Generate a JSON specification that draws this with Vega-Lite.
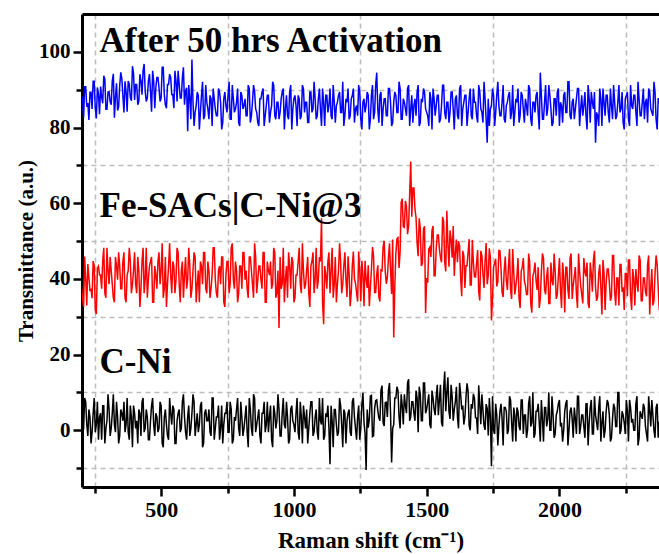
{
"$schema": "https://vega.github.io/schema/vega-lite/v6.json",
"autosize": "none",
"width": 577,
"height": 473,
"padding": {"left": 82, "top": 14, "right": 0, "bottom": 67},
"background": "white",
"config": {
  "view": {"stroke": null},
  "axis": {"labelFont": "Liberation Serif", "titleFont": "Liberation Serif", "labelFontWeight": "bold", "titleFontWeight": "bold", "labelColor": "black", "titleColor": "black", "domainColor": "black", "tickColor": "black"}
},
"datasets": {
"spec": [
{"x":200,"k":5.5,"f":38.2,"a":87.9},{"x":208,"k":0.5,"f":32.5,"a":82.6},{"x":216,"k":7.5,"f":40,"a":90.8},{"x":224,"k":-1.5,"f":43.9,"a":86.5},{"x":232,"k":3.5,"f":37,"a":89.3},{"x":240,"k":-0.5,"f":34.9,"a":84.9},{"x":248,"k":8.5,"f":43.6,"a":92.2},{"x":256,"k":1.5,"f":30.7,"a":82.4},{"x":264,"k":-2.5,"f":43.4,"a":88.9},{"x":272,"k":4.5,"f":41,"a":90.8},
{"x":280,"k":6.5,"f":44.6,"a":86.4},{"x":288,"k":-3.5,"f":36.2,"a":92.8},{"x":296,"k":2.5,"f":48.2,"a":84.8},{"x":304,"k":5.5,"f":38.6,"a":89.5},{"x":312,"k":0.5,"f":42.2,"a":86},{"x":320,"k":9.5,"f":35,"a":94.2},{"x":328,"k":-0.5,"f":45.8,"a":88},{"x":336,"k":3.5,"f":39.8,"a":84.5},{"x":344,"k":-1.5,"f":43.4,"a":91},{"x":352,"k":4.5,"f":37.4,"a":92.9},
{"x":360,"k":7.5,"f":47,"a":84},{"x":368,"k":1.5,"f":33.8,"a":89.5},{"x":376,"k":-0.5,"f":42.2,"a":92.3},{"x":384,"k":6.5,"f":44.6,"a":88},{"x":392,"k":-4.5,"f":38.6,"a":96.2},{"x":400,"k":4.5,"f":47,"a":87.3},{"x":408,"k":2.5,"f":36.2,"a":91.4},{"x":416,"k":5.5,"f":42.2,"a":86.9},{"x":424,"k":-1.5,"f":37.4,"a":92.3},{"x":432,"k":8.5,"f":48.2,"a":95},
{"x":440,"k":0.5,"f":39.8,"a":89.6},{"x":448,"k":3.5,"f":35,"a":87.8},{"x":456,"k":-2.5,"f":43.4,"a":94.1},{"x":464,"k":6.5,"f":45.8,"a":84.2},{"x":472,"k":1.5,"f":33.8,"a":92.3},{"x":480,"k":4.5,"f":41,"a":90.5},{"x":488,"k":-0.5,"f":44.6,"a":93.2},{"x":496,"k":7.5,"f":38.6,"a":86.9},{"x":504,"k":-3.5,"f":49.4,"a":95.9},{"x":512,"k":3.5,"f":37.4,"a":88.7},
{"x":520,"k":1.5,"f":32.6,"a":85.1},{"x":528,"k":-2.5,"f":43.4,"a":91.4},{"x":536,"k":4.5,"f":41,"a":93.2},{"x":544,"k":6.5,"f":44.6,"a":88.7},{"x":552,"k":-3.5,"f":36.2,"a":95},{"x":560,"k":2.5,"f":48.2,"a":86.9},{"x":568,"k":5.5,"f":38.6,"a":91.4},{"x":576,"k":0.5,"f":42.2,"a":87.8},{"x":584,"k":9.5,"f":35,"a":95.9},{"x":592,"k":-0.5,"f":45.8,"a":89.6},
{"x":600,"k":3.5,"f":39.8,"a":79},{"x":608,"k":-1.5,"f":43.4,"a":87.6},{"x":616,"k":4.5,"f":37.4,"a":98},{"x":624,"k":7.5,"f":47,"a":80.4},{"x":632,"k":1.5,"f":33.8,"a":85.8},{"x":640,"k":-0.5,"f":42.2,"a":88.5},{"x":648,"k":6.5,"f":44.6,"a":84},{"x":656,"k":-4.5,"f":38.6,"a":92.1},{"x":664,"k":4.5,"f":47,"a":83.1},{"x":672,"k":2.5,"f":36.2,"a":86.7},
{"x":680,"k":5.5,"f":42.2,"a":82.2},{"x":688,"k":-1.5,"f":37.4,"a":87.6},{"x":696,"k":8.5,"f":48.2,"a":90.3},{"x":704,"k":0.5,"f":39.8,"a":84.9},{"x":712,"k":3.5,"f":35,"a":83.1},{"x":720,"k":-2.5,"f":43.4,"a":89.4},{"x":728,"k":6.5,"f":45.8,"a":79.5},{"x":736,"k":1.5,"f":33.8,"a":87.6},{"x":744,"k":4.5,"f":41,"a":85.8},{"x":752,"k":-0.5,"f":44.6,"a":88.5},
{"x":760,"k":7.5,"f":38.6,"a":82.2},{"x":768,"k":-3.5,"f":49.4,"a":91.2},{"x":776,"k":3.5,"f":37.4,"a":84},{"x":784,"k":5.5,"f":42.2,"a":86.7},{"x":792,"k":0.5,"f":36.2,"a":81.3},{"x":800,"k":7.5,"f":43.4,"a":89.4},{"x":808,"k":-1.5,"f":47,"a":84.9},{"x":816,"k":3.5,"f":39.8,"a":87.6},{"x":824,"k":-0.5,"f":37.4,"a":83.1},{"x":832,"k":8.5,"f":45.8,"a":90.3},
{"x":840,"k":0.5,"f":42.2,"a":83.1},{"x":848,"k":9.5,"f":35,"a":91.2},{"x":856,"k":-0.5,"f":45.8,"a":84.9},{"x":864,"k":3.5,"f":39.8,"a":81.3},{"x":872,"k":-1.5,"f":43.4,"a":87.6},{"x":880,"k":4.5,"f":37.4,"a":89.4},{"x":888,"k":7.5,"f":47,"a":80.4},{"x":896,"k":1.5,"f":33.8,"a":85.8},{"x":904,"k":-0.5,"f":42.2,"a":88.5},{"x":912,"k":6.5,"f":44.6,"a":84},
{"x":920,"k":-4.5,"f":38.6,"a":92.1},{"x":928,"k":4.5,"f":47,"a":83.1},{"x":936,"k":2.5,"f":36.2,"a":86.7},{"x":944,"k":5.5,"f":27,"a":82.2},{"x":952,"k":-1.5,"f":37.4,"a":87.6},{"x":960,"k":8.5,"f":48.2,"a":90.3},{"x":968,"k":0.5,"f":39.8,"a":84.9},{"x":976,"k":3.5,"f":35,"a":83.1},{"x":984,"k":-2.5,"f":43.4,"a":89.4},{"x":992,"k":6.5,"f":45.8,"a":79.5},
{"x":1000,"k":1.5,"f":33.8,"a":87.6},{"x":1008,"k":4.5,"f":41,"a":85.8},{"x":1016,"k":-0.5,"f":44.6,"a":88.5},{"x":1024,"k":7.5,"f":38.6,"a":82.2},{"x":1032,"k":-3.5,"f":49.4,"a":91.2},{"x":1040,"k":3.5,"f":37.4,"a":84},{"x":1048,"k":5.5,"f":42.2,"a":86.7},{"x":1056,"k":0.5,"f":36.2,"a":81.3},{"x":1064,"k":7.5,"f":43.4,"a":89.4},{"x":1072,"k":-1.5,"f":47,"a":84.9},
{"x":1080,"k":3.5,"f":39.8,"a":87.6},{"x":1088,"k":-0.5,"f":37.4,"a":83.1},{"x":1096,"k":8.5,"f":45.8,"a":90.3},{"x":1104,"k":1.5,"f":56,"a":80.4},{"x":1112,"k":-2.5,"f":28,"a":86.7},{"x":1120,"k":4.5,"f":41,"a":88.5},{"x":1128,"k":6.5,"f":44.6,"a":84},{"x":1136,"k":-9,"f":36.2,"a":90.3},{"x":1144,"k":2.5,"f":48.2,"a":82.2},{"x":1152,"k":5.5,"f":38.6,"a":86.7},
{"x":1160,"k":1.5,"f":33.8,"a":85.8},{"x":1168,"k":-0.5,"f":42.2,"a":88.5},{"x":1176,"k":6.5,"f":44.6,"a":84},{"x":1184,"k":-4.5,"f":38.6,"a":92.1},{"x":1192,"k":4.5,"f":47,"a":83.1},{"x":1200,"k":2.5,"f":35.2,"a":86.7},{"x":1208,"k":5.5,"f":41.2,"a":82.2},{"x":1216,"k":-1.5,"f":36.4,"a":87.6},{"x":1224,"k":8.5,"f":47.2,"a":90.3},{"x":1232,"k":0.5,"f":38.8,"a":84.9},
{"x":1240,"k":3.5,"f":34,"a":83.1},{"x":1248,"k":-2.5,"f":42.4,"a":89.4},{"x":1256,"k":6.7,"f":44.8,"a":79.5},{"x":1264,"k":2.1,"f":32.8,"a":87.6},{"x":1272,"k":-10.5,"f":40,"a":85.8},{"x":1280,"k":0.7,"f":43.6,"a":88.5},{"x":1288,"k":9,"f":37.6,"a":82.2},{"x":1296,"k":-1.7,"f":48.4,"a":91.2},{"x":1304,"k":5.7,"f":36.4,"a":84},{"x":1312,"k":8,"f":41.2,"a":94.5},
{"x":1320,"k":3.3,"f":35.2,"a":81.3},{"x":1328,"k":10.6,"f":42.4,"a":89.4},{"x":1336,"k":2,"f":48.5,"a":84.9},{"x":1344,"k":7.3,"f":42,"a":87.6},{"x":1352,"k":3.5,"f":40.3,"a":83.1},{"x":1360,"k":12.5,"f":49.4,"a":90.3},{"x":1368,"k":-8.5,"f":36,"a":80.4},{"x":1376,"k":1.5,"f":24.5,"a":86.7},{"x":1384,"k":8.5,"f":46.6,"a":88.5},{"x":1392,"k":10.5,"f":50.9,"a":84},
{"x":1400,"k":0.5,"f":47.2,"a":90.3},{"x":1408,"k":6.5,"f":61.2,"a":82.2},{"x":1416,"k":9.5,"f":53.6,"a":86.7},{"x":1424,"k":4.5,"f":59.2,"a":83.1},{"x":1432,"k":13.5,"f":54,"a":91.2},{"x":1440,"k":3.5,"f":71,"a":84.9},{"x":1448,"k":7.5,"f":64,"a":81.3},{"x":1456,"k":2.5,"f":58.4,"a":87.6},{"x":1464,"k":8.5,"f":49.4,"a":89.4},{"x":1472,"k":11.5,"f":56,"a":80.4},
{"x":1480,"k":2.5,"f":43.4,"a":87.6},{"x":1488,"k":12.5,"f":53.2,"a":90.3},{"x":1496,"k":4.5,"f":31,"a":84.9},{"x":1504,"k":7.5,"f":39,"a":83.1},{"x":1512,"k":1.5,"f":48.4,"a":89.4},{"x":1520,"k":10.5,"f":52.8,"a":79.5},{"x":1528,"k":5.5,"f":40.8,"a":87.6},{"x":1536,"k":9,"f":48,"a":85.8},{"x":1544,"k":4,"f":51.6,"a":88.5},{"x":1552,"k":12,"f":45.6,"a":82.2},
{"x":1560,"k":1,"f":56.4,"a":91.2},{"x":1568,"k":15.5,"f":44.4,"a":84},{"x":1576,"k":10,"f":58,"a":86.7},{"x":1584,"k":5,"f":43.2,"a":81.3},{"x":1592,"k":12,"f":50.4,"a":89.4},{"x":1600,"k":2.5,"f":54,"a":84.9},{"x":1608,"k":7.5,"f":46.8,"a":87.6},{"x":1616,"k":3.5,"f":44.4,"a":83.1},{"x":1624,"k":12.5,"f":48.7,"a":90.3},{"x":1632,"k":5.5,"f":35.4,"a":80.4},
{"x":1640,"k":1.5,"f":46.1,"a":86.7},{"x":1648,"k":8.5,"f":43.5,"a":88.5},{"x":1656,"k":10.3,"f":47,"a":84},{"x":1664,"k":0,"f":38.4,"a":90.3},{"x":1672,"k":5.7,"f":50.3,"a":82.2},{"x":1680,"k":8.5,"f":40.6,"a":86.7},{"x":1688,"k":3.2,"f":44.1,"a":83.1},{"x":1696,"k":11.9,"f":36.7,"a":91.2},{"x":1704,"k":1.6,"f":47.4,"a":84.9},{"x":1712,"k":5.3,"f":41.3,"a":81.3},
{"x":1720,"k":0.1,"f":44.7,"a":87.6},{"x":1728,"k":5.8,"f":38.6,"a":76},{"x":1736,"k":8.5,"f":48.1,"a":80.4},{"x":1744,"k":-9.5,"f":29,"a":85.8},{"x":1752,"k":0,"f":43.1,"a":88.5},{"x":1760,"k":7,"f":45.3,"a":84},{"x":1768,"k":-4,"f":39.2,"a":92.1},{"x":1776,"k":5,"f":47.4,"a":83.1},{"x":1784,"k":3,"f":36.5,"a":86.7},{"x":1792,"k":6,"f":42.3,"a":82.2},
{"x":1800,"k":5,"f":39.5,"a":85.8},{"x":1808,"k":0,"f":43.1,"a":88.5},{"x":1816,"k":8,"f":37.1,"a":82.2},{"x":1824,"k":-3,"f":47.9,"a":91.2},{"x":1832,"k":4,"f":35.9,"a":84},{"x":1840,"k":6,"f":40.7,"a":86.7},{"x":1848,"k":1,"f":34.7,"a":81.3},{"x":1856,"k":8,"f":41.9,"a":89.4},{"x":1864,"k":-1,"f":45.5,"a":84.9},{"x":1872,"k":4,"f":38.3,"a":87.6},
{"x":1880,"k":0,"f":35.9,"a":83.1},{"x":1888,"k":9,"f":44.3,"a":90.3},{"x":1896,"k":2,"f":31.1,"a":80.4},{"x":1904,"k":-2,"f":41.9,"a":86.7},{"x":1912,"k":5,"f":39.5,"a":88.5},{"x":1920,"k":7,"f":43.1,"a":84},{"x":1928,"k":-3,"f":34.7,"a":94.5},{"x":1936,"k":3,"f":46.7,"a":82.2},{"x":1944,"k":6,"f":37.1,"a":86.7},{"x":1952,"k":1,"f":40.7,"a":83.1},
{"x":1960,"k":10,"f":33.5,"a":91.2},{"x":1968,"k":0,"f":44.3,"a":84.9},{"x":1976,"k":4,"f":38.3,"a":81.3},{"x":1984,"k":-1,"f":41.9,"a":87.6},{"x":1992,"k":5,"f":35.9,"a":89.4},{"x":2000,"k":8,"f":45.5,"a":80.4},{"x":2008,"k":2,"f":32.3,"a":85.8},{"x":2016,"k":0,"f":40.7,"a":88.5},{"x":2024,"k":7,"f":43.1,"a":84},{"x":2032,"k":-4,"f":37.1,"a":92.1},
{"x":2040,"k":5,"f":45.5,"a":83.1},{"x":2048,"k":3,"f":34.7,"a":86.7},{"x":2056,"k":6,"f":40.7,"a":82.2},{"x":2064,"k":-1,"f":35.9,"a":87.6},{"x":2072,"k":9,"f":46.7,"a":90.3},{"x":2080,"k":1,"f":38.3,"a":84.9},{"x":2088,"k":4,"f":33.5,"a":83.1},{"x":2096,"k":-2,"f":41.9,"a":89.4},{"x":2104,"k":7,"f":44.3,"a":79.5},{"x":2112,"k":2,"f":32.3,"a":87.6},
{"x":2120,"k":8,"f":41.4,"a":89.4},{"x":2128,"k":-1,"f":45,"a":84.9},{"x":2136,"k":4,"f":37.8,"a":76},{"x":2144,"k":0,"f":35.4,"a":83.1},{"x":2152,"k":9,"f":43.8,"a":90.3},{"x":2160,"k":2,"f":30.6,"a":80.4},{"x":2168,"k":-2,"f":41.4,"a":86.7},{"x":2176,"k":5,"f":39,"a":88.5},{"x":2184,"k":7,"f":42.6,"a":84},{"x":2192,"k":-3,"f":34.2,"a":90.3},
{"x":2200,"k":3,"f":46.2,"a":82.2},{"x":2208,"k":6,"f":36.6,"a":86.7},{"x":2216,"k":1,"f":40.2,"a":83.1},{"x":2224,"k":10,"f":33,"a":91.2},{"x":2232,"k":0,"f":43.8,"a":84.9},{"x":2240,"k":4,"f":37.8,"a":81.3},{"x":2248,"k":-1,"f":41.4,"a":87.6},{"x":2256,"k":5,"f":35.4,"a":89.4},{"x":2264,"k":8,"f":45,"a":80.4},{"x":2272,"k":2,"f":31.8,"a":85.8},
{"x":2280,"k":0,"f":40.2,"a":88.5},{"x":2288,"k":7,"f":42.6,"a":84},{"x":2296,"k":-4,"f":36.6,"a":92.1},{"x":2304,"k":5,"f":45,"a":83.1},{"x":2312,"k":3,"f":34.2,"a":86.7},{"x":2320,"k":6,"f":40.2,"a":82.2},{"x":2328,"k":-1,"f":35.4,"a":87.6},{"x":2336,"k":9,"f":46.2,"a":90.3},{"x":2344,"k":1,"f":37.8,"a":84.9},{"x":2352,"k":4,"f":33,"a":83.1},
{"x":2360,"k":-2,"f":41.4,"a":89.4},{"x":2368,"k":7,"f":43.8,"a":79.5},{"x":2376,"k":2,"f":31.8,"a":87.6},{"x":2384,"k":-7,"f":29,"a":77},
{"x":204,"k":-1.5,"f":34.8,"a":88},{"x":212,"k":8.5,"f":45.9,"a":90.8},{"x":220,"k":1.5,"f":33,"a":85.5},{"x":228,"k":5.5,"f":40.5,"a":82},{"x":236,"k":-3.5,"f":37.2,"a":89.3},{"x":244,"k":4.5,"f":44.7,"a":92.2},{"x":252,"k":-0.5,"f":31.8,"a":85.1},{"x":260,"k":7.5,"f":42.9,"a":90.6},{"x":268,"k":3.5,"f":41,"a":83.5},{"x":276,"k":-2.5,"f":37.4,"a":88.1},
{"x":284,"k":6.5,"f":48.2,"a":93.7},{"x":292,"k":0.5,"f":35,"a":84.8},{"x":300,"k":9.5,"f":42.2,"a":89.4},{"x":308,"k":-1.5,"f":45.8,"a":86.8},{"x":316,"k":4.5,"f":38.6,"a":92.3},{"x":324,"k":1.5,"f":33.8,"a":82.6},{"x":332,"k":7.5,"f":43.4,"a":91.7},{"x":340,"k":-3.5,"f":47,"a":85.5},{"x":348,"k":5.5,"f":37.4,"a":94.6},{"x":356,"k":2.5,"f":44.6,"a":88.4},
{"x":364,"k":-0.5,"f":35,"a":92.2},{"x":372,"k":8.5,"f":41,"a":84.2},{"x":380,"k":-2.5,"f":48.2,"a":91.5},{"x":388,"k":3.5,"f":36.2,"a":87.1},{"x":396,"k":6.5,"f":42.2,"a":94.4},{"x":404,"k":0.5,"f":38.6,"a":91.4},{"x":412,"k":-3.5,"f":45.8,"a":86},{"x":420,"k":4.5,"f":32.6,"a":94.1},{"x":428,"k":7.5,"f":44.6,"a":88.7},{"x":436,"k":-0.5,"f":36.2,"a":96.8},
{"x":444,"k":5.5,"f":48.2,"a":86.9},{"x":452,"k":-2.5,"f":39.8,"a":92.3},{"x":460,"k":2.5,"f":44.6,"a":89.6},{"x":468,"k":8.5,"f":33.8,"a":95},{"x":476,"k":-1.5,"f":43.4,"a":85.1},{"x":484,"k":3.5,"f":37.4,"a":93.2},{"x":492,"k":0.5,"f":47,"a":90.5},{"x":500,"k":6.5,"f":42.2,"a":87.8},{"x":508,"k":-4.5,"f":35,"a":95.9},{"x":516,"k":5.5,"f":45.8,"a":86},
{"x":524,"k":-1.5,"f":38.6,"a":91.4},{"x":532,"k":8.5,"f":49.4,"a":94.1},{"x":540,"k":1.5,"f":36.2,"a":88.7},{"x":548,"k":5.5,"f":43.4,"a":85.1},{"x":556,"k":-3.5,"f":39.8,"a":92.3},{"x":564,"k":4.5,"f":47,"a":95},{"x":572,"k":-0.5,"f":33.8,"a":87.8},{"x":580,"k":7.5,"f":44.6,"a":93.2},{"x":588,"k":3.5,"f":41,"a":86},{"x":596,"k":-2.5,"f":37.4,"a":90.5},
{"x":604,"k":6.5,"f":48.2,"a":91.2},{"x":612,"k":0.5,"f":35,"a":82.2},{"x":620,"k":9.5,"f":42.2,"a":86.7},{"x":628,"k":-1.5,"f":45.8,"a":84},{"x":636,"k":4.5,"f":38.6,"a":89.4},{"x":644,"k":1.5,"f":33.8,"a":79.5},{"x":652,"k":7.5,"f":43.4,"a":88.5},{"x":660,"k":-3.5,"f":47,"a":82.2},{"x":668,"k":5.5,"f":37.4,"a":91.2},{"x":676,"k":2.5,"f":44.6,"a":84.9},
{"x":684,"k":-0.5,"f":35,"a":88.5},{"x":692,"k":8.5,"f":41,"a":80.4},{"x":700,"k":-2.5,"f":48.2,"a":87.6},{"x":708,"k":3.5,"f":36.2,"a":83.1},{"x":716,"k":6.5,"f":42.2,"a":90.3},{"x":724,"k":0.5,"f":38.6,"a":86.7},{"x":732,"k":-3.5,"f":45.8,"a":81.3},{"x":740,"k":4.5,"f":32.6,"a":89.4},{"x":748,"k":7.5,"f":44.6,"a":84},{"x":756,"k":-0.5,"f":36.2,"a":92.1},
{"x":764,"k":5.5,"f":48.2,"a":82.2},{"x":772,"k":-2.5,"f":39.8,"a":87.6},{"x":780,"k":2.5,"f":44.6,"a":84.9},{"x":788,"k":8.5,"f":33.8,"a":90.3},{"x":796,"k":-1.5,"f":43.4,"a":80.4},{"x":804,"k":3.5,"f":37.4,"a":88.5},{"x":812,"k":0.5,"f":47,"a":85.8},{"x":820,"k":6.5,"f":42.2,"a":83.1},{"x":828,"k":-4.5,"f":35,"a":91.2},{"x":836,"k":5.5,"f":45.8,"a":81.3},
{"x":844,"k":-1.5,"f":38.6,"a":86.7},{"x":852,"k":8.5,"f":49.4,"a":89.4},{"x":860,"k":1.5,"f":36.2,"a":84},{"x":868,"k":5.5,"f":43.4,"a":80.4},{"x":876,"k":-3.5,"f":39.8,"a":87.6},{"x":884,"k":4.5,"f":47,"a":90.3},{"x":892,"k":-0.5,"f":33.8,"a":83.1},{"x":900,"k":7.5,"f":44.6,"a":88.5},{"x":908,"k":3.5,"f":41,"a":81.3},{"x":916,"k":-2.5,"f":37.4,"a":85.8},
{"x":924,"k":6.5,"f":48.2,"a":91.2},{"x":932,"k":0.5,"f":35,"a":82.2},{"x":940,"k":9.5,"f":42.2,"a":86.7},{"x":948,"k":-1.5,"f":45.8,"a":84},{"x":956,"k":4.5,"f":38.6,"a":89.4},{"x":964,"k":1.5,"f":33.8,"a":79.5},{"x":972,"k":7.5,"f":43.4,"a":88.5},{"x":980,"k":-3.5,"f":47,"a":82.2},{"x":988,"k":5.5,"f":37.4,"a":91.2},{"x":996,"k":2.5,"f":44.6,"a":84.9},
{"x":1004,"k":-0.5,"f":35,"a":88.5},{"x":1012,"k":8.5,"f":41,"a":80.4},{"x":1020,"k":-2.5,"f":48.2,"a":87.6},{"x":1028,"k":3.5,"f":36.2,"a":83.1},{"x":1036,"k":6.5,"f":42.2,"a":90.3},{"x":1044,"k":0.5,"f":38.6,"a":86.7},{"x":1052,"k":-3.5,"f":45.8,"a":81.3},{"x":1060,"k":4.5,"f":32.6,"a":89.4},{"x":1068,"k":7.5,"f":44.6,"a":84},{"x":1076,"k":-0.5,"f":36.2,"a":92.1},
{"x":1084,"k":5.5,"f":48.2,"a":82.2},{"x":1092,"k":-2.5,"f":39.8,"a":87.6},{"x":1100,"k":2.5,"f":44.6,"a":84.9},{"x":1108,"k":8.5,"f":33.8,"a":90.3},{"x":1116,"k":-1.5,"f":43.4,"a":80.4},{"x":1124,"k":3.5,"f":37.4,"a":88.5},{"x":1132,"k":0.5,"f":47,"a":85.8},{"x":1140,"k":6.5,"f":42.2,"a":83.1},{"x":1148,"k":-4.5,"f":35,"a":91.2},{"x":1156,"k":5.5,"f":45.8,"a":81.3},
{"x":1164,"k":-1.5,"f":38.6,"a":86.7},{"x":1172,"k":8.5,"f":49.4,"a":89.4},{"x":1180,"k":1.5,"f":36.2,"a":84},{"x":1188,"k":5.5,"f":43.4,"a":80.4},{"x":1196,"k":-3.5,"f":39.8,"a":87.6},{"x":1204,"k":4.5,"f":46,"a":90.3},{"x":1212,"k":-0.5,"f":32.8,"a":83.1},{"x":1220,"k":7.5,"f":43.6,"a":88.5},{"x":1228,"k":3.5,"f":40,"a":81.3},{"x":1236,"k":-2.5,"f":36.4,"a":85.8},
{"x":1244,"k":6.5,"f":47.2,"a":91.2},{"x":1252,"k":0.6,"f":34,"a":82.2},{"x":1260,"k":9.9,"f":41.2,"a":86.7},{"x":1268,"k":-0.8,"f":44.8,"a":84},{"x":1276,"k":5.5,"f":37.6,"a":89.4},{"x":1284,"k":2.9,"f":32.8,"a":79.5},{"x":1292,"k":9.2,"f":42.4,"a":88.5},{"x":1300,"k":-1.5,"f":46,"a":82.2},{"x":1308,"k":7.8,"f":36.4,"a":91.2},{"x":1316,"k":5.2,"f":43.6,"a":84.9},
{"x":1324,"k":2.5,"f":34,"a":88.5},{"x":1332,"k":11.8,"f":42.2,"a":80.4},{"x":1340,"k":1.1,"f":50.1,"a":87.6},{"x":1348,"k":7.4,"f":38.7,"a":83.1},{"x":1356,"k":10.5,"f":45.4,"a":90.3},{"x":1364,"k":4.5,"f":42.5,"a":86.7},{"x":1372,"k":0.5,"f":50.4,"a":81.3},{"x":1380,"k":8.5,"f":37.9,"a":89.4},{"x":1388,"k":11.5,"f":50.6,"a":84},{"x":1396,"k":3.5,"f":42.9,"a":92.1},
{"x":1404,"k":9.5,"f":60.2,"a":82.2},{"x":1412,"k":1.5,"f":53.8,"a":87.6},{"x":1420,"k":6.5,"f":60.6,"a":84.9},{"x":1428,"k":12.5,"f":51.8,"a":90.3},{"x":1436,"k":2.5,"f":62.4,"a":80.4},{"x":1444,"k":7.5,"f":56.4,"a":88.5},{"x":1452,"k":4.5,"f":64,"a":85.8},{"x":1460,"k":10.5,"f":56.2,"a":83.1},{"x":1468,"k":-0.5,"f":46,"a":91.2},{"x":1476,"k":9.5,"f":53.3,"a":81.3},
{"x":1484,"k":2.5,"f":44.1,"a":86.7},{"x":1492,"k":12.5,"f":53.9,"a":89.4},{"x":1500,"k":5.5,"f":40.2,"a":84},{"x":1508,"k":9.5,"f":47.9,"a":80.4},{"x":1516,"k":0.5,"f":45.8,"a":87.6},{"x":1524,"k":8.5,"f":54,"a":90.3},{"x":1532,"k":4,"f":40.8,"a":83.1},{"x":1540,"k":12,"f":51.6,"a":88.5},{"x":1548,"k":8,"f":48,"a":81.3},{"x":1556,"k":2,"f":44.4,"a":85.8},
{"x":1564,"k":11,"f":55.2,"a":91.2},{"x":1572,"k":5,"f":42,"a":82.2},{"x":1580,"k":14,"f":49.2,"a":86.7},{"x":1588,"k":3,"f":52.8,"a":84},{"x":1596,"k":9,"f":45.6,"a":89.4},{"x":1604,"k":5.5,"f":40.8,"a":79.5},{"x":1612,"k":11.5,"f":50.4,"a":88.5},{"x":1620,"k":0.5,"f":50,"a":82.2},{"x":1628,"k":9.5,"f":40.3,"a":91.2},{"x":1636,"k":6.5,"f":47.4,"a":84.9},
{"x":1644,"k":3.5,"f":37.6,"a":88.5},{"x":1652,"k":12.4,"f":43.5,"a":80.4},{"x":1660,"k":1.2,"f":50.5,"a":87.6},{"x":1668,"k":6.9,"f":38.4,"a":83.1},{"x":1676,"k":9.6,"f":44.3,"a":90.3},{"x":1684,"k":3.3,"f":40.5,"a":86.7},{"x":1692,"k":-1,"f":47.6,"a":81.3},{"x":1700,"k":6.8,"f":34.3,"a":89.4},{"x":1708,"k":9.5,"f":46.1,"a":84},{"x":1716,"k":1.2,"f":37.6,"a":92.1},
{"x":1724,"k":6.9,"f":49.5,"a":82.2},{"x":1732,"k":-1.4,"f":40.9,"a":87.6},{"x":1740,"k":3.3,"f":45.6,"a":84.9},{"x":1748,"k":9,"f":34.7,"a":90.3},{"x":1756,"k":-1,"f":44.2,"a":80.4},{"x":1764,"k":4,"f":38,"a":88.5},{"x":1772,"k":1,"f":47.5,"a":85.8},{"x":1780,"k":7,"f":42.6,"a":83.1},{"x":1788,"k":-4,"f":35.2,"a":91.2},{"x":1796,"k":6,"f":45.9,"a":81.3},
{"x":1804,"k":-1,"f":37.1,"a":86.7},{"x":1812,"k":9,"f":47.9,"a":89.4},{"x":1820,"k":2,"f":34.7,"a":84},{"x":1828,"k":6,"f":41.9,"a":80.4},{"x":1836,"k":-3,"f":38.3,"a":87.6},{"x":1844,"k":5,"f":45.5,"a":90.3},{"x":1852,"k":0,"f":32.3,"a":83.1},{"x":1860,"k":8,"f":43.1,"a":88.5},{"x":1868,"k":4,"f":39.5,"a":81.3},{"x":1876,"k":-2,"f":35.9,"a":85.8},
{"x":1884,"k":7,"f":46.7,"a":91.2},{"x":1892,"k":1,"f":33.5,"a":82.2},{"x":1900,"k":10,"f":40.7,"a":86.7},{"x":1908,"k":-1,"f":44.3,"a":84},{"x":1916,"k":5,"f":37.1,"a":89.4},{"x":1924,"k":2,"f":32.3,"a":79.5},{"x":1932,"k":8,"f":41.9,"a":88.5},{"x":1940,"k":-3,"f":45.5,"a":82.2},{"x":1948,"k":6,"f":35.9,"a":91.2},{"x":1956,"k":3,"f":43.1,"a":84.9},
{"x":1964,"k":0,"f":33.5,"a":88.5},{"x":1972,"k":9,"f":39.5,"a":80.4},{"x":1980,"k":-2,"f":46.7,"a":87.6},{"x":1988,"k":4,"f":34.7,"a":83.1},{"x":1996,"k":7,"f":40.7,"a":90.3},{"x":2004,"k":1,"f":37.1,"a":86.7},{"x":2012,"k":-3,"f":44.3,"a":81.3},{"x":2020,"k":5,"f":31.1,"a":89.4},{"x":2028,"k":8,"f":43.1,"a":84},{"x":2036,"k":0,"f":34.7,"a":92.1},
{"x":2044,"k":6,"f":46.7,"a":82.2},{"x":2052,"k":-2,"f":38.3,"a":87.6},{"x":2060,"k":3,"f":43.1,"a":84.9},{"x":2068,"k":9,"f":32.3,"a":90.3},{"x":2076,"k":-1,"f":41.9,"a":80.4},{"x":2084,"k":4,"f":35.9,"a":88.5},{"x":2092,"k":1,"f":45.5,"a":85.8},{"x":2100,"k":7,"f":40.7,"a":83.1},{"x":2108,"k":-4,"f":33.5,"a":91.2},{"x":2116,"k":6,"f":44.3,"a":81.3},
{"x":2124,"k":-1,"f":36.6,"a":86.7},{"x":2132,"k":9,"f":47.4,"a":89.4},{"x":2140,"k":2,"f":34.2,"a":84},{"x":2148,"k":6,"f":41.4,"a":80.4},{"x":2156,"k":-3,"f":37.8,"a":87.6},{"x":2164,"k":5,"f":45,"a":90.3},{"x":2172,"k":0,"f":31.8,"a":83.1},{"x":2180,"k":8,"f":42.6,"a":88.5},{"x":2188,"k":4,"f":39,"a":81.3},{"x":2196,"k":-2,"f":35.4,"a":85.8},
{"x":2204,"k":7,"f":46.2,"a":91.2},{"x":2212,"k":1,"f":33,"a":82.2},{"x":2220,"k":10,"f":40.2,"a":86.7},{"x":2228,"k":-1,"f":43.8,"a":84},{"x":2236,"k":5,"f":36.6,"a":89.4},{"x":2244,"k":2,"f":31.8,"a":79.5},{"x":2252,"k":8,"f":41.4,"a":88.5},{"x":2260,"k":-3,"f":45,"a":82.2},{"x":2268,"k":6,"f":35.4,"a":91.2},{"x":2276,"k":3,"f":42.6,"a":84.9},
{"x":2284,"k":0,"f":33,"a":88.5},{"x":2292,"k":9,"f":39,"a":80.4},{"x":2300,"k":-2,"f":46.2,"a":87.6},{"x":2308,"k":4,"f":34.2,"a":83.1},{"x":2316,"k":7,"f":40.2,"a":90.3},{"x":2324,"k":1,"f":36.6,"a":86.7},{"x":2332,"k":-3,"f":43.8,"a":81.3},{"x":2340,"k":5,"f":30.6,"a":89.4},{"x":2348,"k":8,"f":42.6,"a":84},{"x":2356,"k":0,"f":34.2,"a":92.1},
{"x":2364,"k":6,"f":46.2,"a":82.2},{"x":2372,"k":-2,"f":37.8,"a":87.6},{"x":2380,"k":3,"f":42.6,"a":84.9}
],
"labels": [
{"lx":268,"ly":100,"t":"After 50 hrs Activation"},
{"lx":268,"ly":56.4,"t":"Fe-SACs|C-Ni@3"},
{"lx":268,"ly":15.1,"t":"C-Ni"}
]
},
"resolve": {"scale": {"x": "shared", "y": "shared"}, "axis": {"x": "independent", "y": "independent"}},
"layer": [
{
  "data": {"name": "spec"},
  "mark": {"type": "line", "color": "black", "strokeWidth": 1.5, "clip": true},
  "encoding": {
    "x": {"field": "x", "type": "quantitative",
      "scale": {"domain": [202, 2375], "nice": false, "zero": false},
      "axis": {"orient": "bottom", "values": [250,500,750,1000,1250,1500,1750,2000,2250], "format": "d",
        "labelExpr": "datum.value % 500 === 0 ? datum.label : ''",
        "labelFontSize": 22, "labelPadding": 3, "labelFlush": false, "labelOverlap": false,
        "tickSize": {"condition": {"test": "datum.value % 500 === 0", "value": 9}, "value": 6},
        "tickWidth": 2.5, "domainWidth": 3,
        "grid": true, "gridDash": [5, 4], "gridColor": "#bdbdbd", "gridWidth": 1.5,
        "gridOpacity": {"condition": {"test": "datum.value % 500 === 0", "value": 0}, "value": 1},
        "title": "Raman shift (cm⁻¹)", "titleFontSize": 23, "titlePadding": 9}},
    "y": {"field": "k", "type": "quantitative",
      "scale": {"domain": [-15, 110], "nice": false, "zero": false},
      "axis": {"orient": "left", "values": [-10,0,10,20,30,40,50,60,70,80,90,100], "format": "d",
        "labelExpr": "datum.value % 20 === 0 ? datum.label : ''",
        "labelFontSize": 21, "labelPadding": 3, "labelFlush": false, "labelOverlap": false,
        "tickSize": {"condition": {"test": "datum.value % 20 === 0", "value": 9}, "value": 6},
        "tickWidth": 2.5, "domainWidth": 3,
        "grid": true, "gridDash": [5, 4], "gridColor": "#bdbdbd", "gridWidth": 1.5,
        "gridOpacity": {"condition": {"test": "datum.value % 20 === 0", "value": 0}, "value": 1},
        "title": "Transmittance (a.u.)", "titleFontSize": 21, "titlePadding": 2}}
  }
},
{
  "data": {"name": "spec"},
  "mark": {"type": "line", "color": "#ff0000", "strokeWidth": 1.5, "clip": true},
  "encoding": {
    "x": {"field": "x", "type": "quantitative", "axis": null},
    "y": {"field": "f", "type": "quantitative", "axis": null}
  }
},
{
  "data": {"name": "spec"},
  "mark": {"type": "line", "color": "#0000ff", "strokeWidth": 1.5, "clip": true},
  "encoding": {
    "x": {"field": "x", "type": "quantitative", "axis": null},
    "y": {"field": "a", "type": "quantitative", "axis": null}
  }
},
{
  "data": {"name": "labels"},
  "mark": {"type": "text", "align": "left", "baseline": "alphabetic", "font": "Liberation Serif", "fontWeight": "bold", "fontSize": 35, "color": "black"},
  "encoding": {
    "x": {"field": "lx", "type": "quantitative",
      "axis": {"orient": "top", "labels": false, "ticks": false, "grid": false, "domainWidth": 3, "title": null}},
    "y": {"field": "ly", "type": "quantitative", "axis": null},
    "text": {"field": "t"}
  }
}
]
}
